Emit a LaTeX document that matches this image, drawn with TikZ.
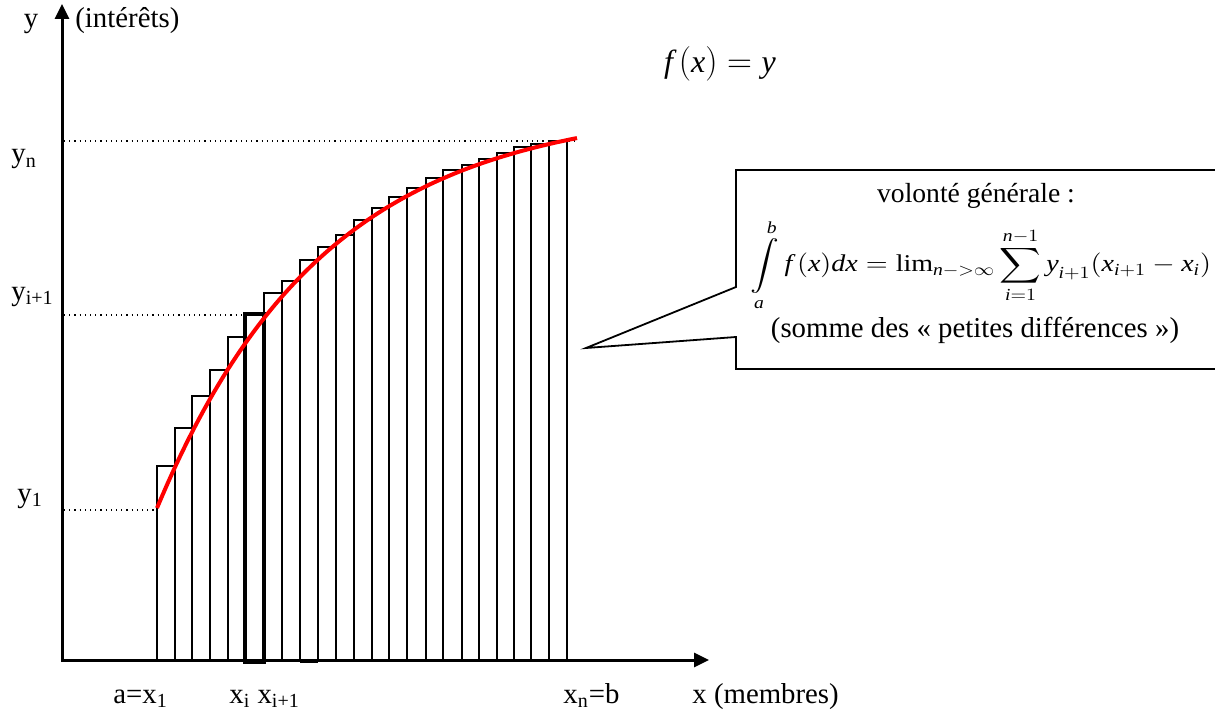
\documentclass[tikz,border=0pt]{standalone}
\usepackage{amsmath}
\usepackage{graphicx}
\usepackage{fontspec}
\setmainfont{Liberation Serif}
\usetikzlibrary{arrows.meta}
\newcommand{\mi}[1]{\textit{#1}}
\begin{document}
\begin{tikzpicture}[x=0.5pt,y=-0.5pt,
  axisline/.style={line width=1.5pt},
  barbox/.style={line width=0.75pt},
  thickbar/.style={line width=1.6pt},
  guide/.style={dotted, line width=0.6pt},
  fcurve/.style={red, line width=2pt},
  lbl/.style={font=\fontsize{14.4}{17}\selectfont, inner sep=0pt},
  callout/.style={line width=0.9pt, line join=miter}]
\useasboundingbox (0,0) rectangle (1215,711);
% axes
\coordinate (O) at (62,661);
\coordinate (ytip) at (62,4);
\coordinate (xtip) at (709,660);
\draw[axisline,-{Triangle[length=7.5pt,width=7pt]}] (O) -- (ytip);
\draw[axisline,-{Triangle[length=7.5pt,width=7pt]}] (61,660) -- (xtip);
% bars
\foreach \l/\r/\t in {157/175/466,175/192/428,192/210/396,210/228/370,228/245/337,
  264/282/293,282/300/281,300/318/260,318/336/247,336/354/235,354/372/220,
  372/389/208,389/407/197,407/426/188,426/443/178,443/462/170,462/479/165,
  479/497/159,497/514/153,514/531/147,531/549/144,549/567/141}
  \draw[barbox] (\l,660) rectangle (\r,\t);
\draw[thickbar] (245,662) rectangle (264,314);
\draw[thickbar] (300,661) -- (318,661);
% guides
\coordinate (gn0) at (64,141); \coordinate (gn1) at (577,141);
\coordinate (gi0) at (64,315); \coordinate (gi1) at (245,315);
\coordinate (g10) at (64,510); \coordinate (g11) at (157,510);
\draw[guide] (gn0) -- (gn1);
\draw[guide] (gi0) -- (gi1);
\draw[guide] (g10) -- (g11);
% curve
\draw[fcurve] plot[domain=157:577, samples=90] (\x, {105+403*exp(-(\x-157)/168)});
% axis labels
\node[lbl, anchor=base] (ylab) at (31,28) {y};
\node[lbl, anchor=base west] (ytxt) at (75,28) {(intérêts)};
\node[lbl, anchor=base west] (yn) at (11,163) {y\textsubscript{n}};
\node[lbl, anchor=base west] (yi) at (11,300) {y\textsubscript{i+1}};
\node[lbl, anchor=base west] (y1) at (17,502) {y\textsubscript{1}};
\node[lbl, anchor=base west] (ax1) at (113,703) {a=x\textsubscript{1}};
\node[lbl, anchor=base west] (xi) at (229,703) {x\textsubscript{i} x\textsubscript{i+1}};
\node[lbl, anchor=base west] (xnb) at (563,703) {x\textsubscript{n}=b};
\node[lbl, anchor=base west] (xtxt) at (692,703) {x (membres)};
% f(x)=y
\node[inner sep=0pt, font=\fontsize{16}{19}\selectfont] (fxy) at (720,64) {$\mi{f}\,(\mi{x}) = \mi{y}$};
% callout
\coordinate (tip) at (586,348);
\draw[callout] (1230,170) -- (736,170) -- (736,287) -- (tip) -- (736,337) -- (736,369) -- (1230,369);
\node[lbl, font=\fontsize{13.8}{16}\selectfont, anchor=base] (vg) at (976,203) {volonté générale :};
\node[inner sep=0pt, font=\fontsize{14}{16}\selectfont] (formula) at (981,265)
  {\scalebox{1}[0.86]{$\displaystyle\int\limits_{\mi{a}}^{\mi{b}}\mi{f}\,(\mi{x})\mi{dx}=\mathrm{lim}_{\mi{n}{-}{>}\infty}\sum\limits_{\mi{i}=1}^{\mi{n}-1}\mi{y}_{\mi{i}+1}(\mi{x}_{\mi{i}+1}-\mi{x}_{\mi{i}})$}};
\node[lbl, anchor=base] (somme) at (975,337) {(somme des « petites différences »)};
\end{tikzpicture}
\end{document}
